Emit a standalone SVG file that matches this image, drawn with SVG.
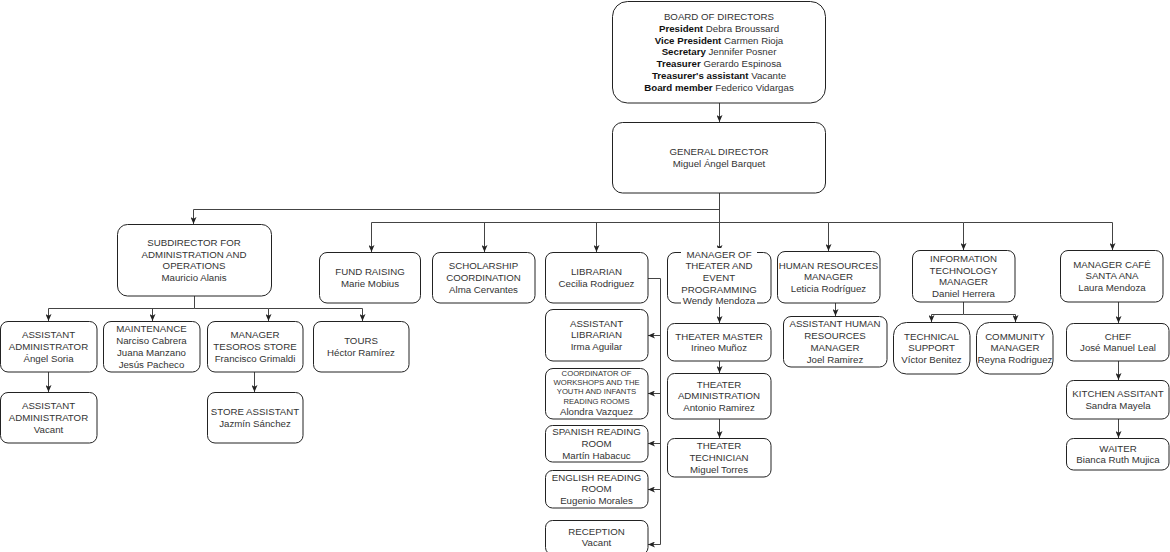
<svg xmlns="http://www.w3.org/2000/svg" width="1170" height="552" viewBox="0 0 1170 552">
<defs>
<marker id="arr" markerWidth="7" markerHeight="6" refX="7" refY="3" orient="auto" markerUnits="userSpaceOnUse">
<path d="M0,0 L7,3 L0,6 L1.8,3 z" fill="#222"/>
</marker>
<style>
.box{fill:#fff;stroke:#222;stroke-width:1}
.t{font-family:"Liberation Sans",Arial,sans-serif;font-size:9.7px;fill:#333;text-anchor:middle}
.s{font-size:7.7px}
.b{font-weight:bold;fill:#111}
.c{fill:none;stroke:#444;stroke-width:1}
.a{marker-end:url(#arr)}
</style>
</defs>
<rect width="1170" height="552" fill="#fff"/>
<g id="connectors">
<path class="c a" d="M719.5,103 V122"/>
<path class="c a" d="M719.5,193 V209.5 H193.5 V224"/>
<path class="c a" d="M719.5,193 V222.5 H371.5 V252"/>
<path class="c a" d="M484.5,222.5 V252"/>
<path class="c a" d="M596.5,222.5 V252"/>
<path class="c a" d="M719.5,193 V252"/>
<path class="c a" d="M719.5,222.5 H828.5 V251"/>
<path class="c a" d="M828.5,222.5 H963.5 V250"/>
<path class="c a" d="M963.5,222.5 H1112.5 V250"/>
<path class="c a" d="M194.5,296 V308.5 H48.5 V321"/>
<path class="c a" d="M152.5,308.5 V321"/>
<path class="c a" d="M194.5,308.5 H268.5 V321"/>
<path class="c a" d="M268.5,308.5 H362.5 V321"/>
<path class="c a" d="M48.5,372 V392"/>
<path class="c a" d="M254.5,372 V392"/>
<path class="c a" d="M648,278.5 H660.5 V544.5 H648"/>
<path class="c a" d="M660.5,335.5 H648"/>
<path class="c a" d="M660.5,393.5 H648"/>
<path class="c a" d="M660.5,443.5 H648"/>
<path class="c a" d="M660.5,489.5 H648"/>
<path class="c a" d="M719.5,303 V323"/>
<path class="c a" d="M719.5,361 V373"/>
<path class="c a" d="M719.5,419 V438"/>
<path class="c a" d="M835.5,303 V316"/>
<path class="c a" d="M963.5,302 V314.5 H931.5 V322"/>
<path class="c a" d="M963.5,314.5 H1015.5 V322"/>
<path class="c a" d="M1118.5,302 V323"/>
<path class="c a" d="M1118.5,361 V380"/>
<path class="c a" d="M1118.5,419 V438"/>
</g>
<g id="board"><rect class="box" x="612.5" y="1.5" width="213" height="101.5" rx="15"/>
<text class="t" x="719" y="20.3">BOARD OF DIRECTORS<tspan x="719" dy="11.7"><tspan class="b">President</tspan> Debra Broussard</tspan><tspan x="719" dy="11.7"><tspan class="b">Vice President</tspan> Carmen Rioja</tspan><tspan x="719" dy="11.7"><tspan class="b">Secretary</tspan> Jennifer Posner</tspan><tspan x="719" dy="11.7"><tspan class="b">Treasurer</tspan> Gerardo Espinosa</tspan><tspan x="719" dy="11.7"><tspan class="b">Treasurer's assistant</tspan> Vacante</tspan><tspan x="719" dy="11.7"><tspan class="b">Board member</tspan> Federico Vidargas</tspan></text></g>
<g id="general-director"><rect class="box" x="612.5" y="122.5" width="213" height="70.5" rx="10"/>
<text class="t" x="719" y="155.3">GENERAL DIRECTOR<tspan x="719" dy="12">Miguel Ángel Barquet</tspan></text></g>
<g id="subdirector"><rect class="box" x="117.5" y="224.5" width="154" height="71.5" rx="10"/>
<text class="t" x="194" y="245.9">SUBDIRECTOR FOR<tspan x="194" dy="11.7">ADMINISTRATION AND</tspan><tspan x="194" dy="11.7">OPERATIONS</tspan><tspan x="194" dy="11.7">Mauricio Alanis</tspan></text></g>
<g id="fund-raising"><rect class="box" x="319.5" y="252.5" width="101" height="50.5" rx="7.5"/>
<text class="t" x="370" y="275">FUND RAISING<tspan x="370" dy="11.7">Marie Mobius</tspan></text></g>
<g id="scholarship"><rect class="box" x="432.5" y="252.5" width="102.5" height="50.5" rx="7.5"/>
<text class="t" x="483.5" y="269.2">SCHOLARSHIP<tspan x="483.5" dy="11.7">COORDINATION</tspan><tspan x="483.5" dy="11.7">Alma Cervantes</tspan></text></g>
<g id="librarian"><rect class="box" x="545.5" y="252.5" width="102.5" height="50.5" rx="7.5"/>
<text class="t" x="596.5" y="275">LIBRARIAN<tspan x="596.5" dy="11.7">Cecilia Rodriguez</tspan></text></g>
<g id="theater-manager"><rect class="box" x="667.5" y="252.5" width="103.5" height="50.5" rx="7.5"/>
<rect x="681" y="248" width="76" height="59" fill="#fff"/>
<text class="t" x="719" y="257.5">MANAGER OF<tspan x="719" dy="11.7">THEATER AND</tspan><tspan x="719" dy="11.7">EVENT</tspan><tspan x="719" dy="11.7">PROGRAMMING</tspan><tspan x="719" dy="11.7">Wendy Mendoza</tspan></text></g>
<g id="hr-manager"><rect class="box" x="777.5" y="251.5" width="102.5" height="51.5" rx="7.5"/>
<text class="t" x="828.5" y="268.7">HUMAN RESOURCES<tspan x="828.5" dy="11.7">MANAGER</tspan><tspan x="828.5" dy="11.7">Leticia Rodríguez</tspan></text></g>
<g id="it-manager"><rect class="box" x="912.5" y="250.5" width="102.5" height="51.5" rx="7.5"/>
<text class="t" x="963.5" y="261.9">INFORMATION<tspan x="963.5" dy="11.7">TECHNOLOGY</tspan><tspan x="963.5" dy="11.7">MANAGER</tspan><tspan x="963.5" dy="11.7">Daniel Herrera</tspan></text></g>
<g id="cafe-manager"><rect class="box" x="1060.5" y="250.5" width="102.5" height="51.5" rx="7.5"/>
<text class="t" x="1112" y="267.7">MANAGER CAFÉ<tspan x="1112" dy="11.7">SANTA ANA</tspan><tspan x="1112" dy="11.7">Laura Mendoza</tspan></text></g>
<g id="assistant-admin"><rect class="box" x="0.5" y="321.5" width="96.5" height="50.5" rx="7.5"/>
<text class="t" x="48.5" y="338.2">ASSISTANT<tspan x="48.5" dy="11.7">ADMINISTRATOR</tspan><tspan x="48.5" dy="11.7">Ángel Soria</tspan></text></g>
<g id="maintenance"><rect class="box" x="103.5" y="321.5" width="96.5" height="50.5" rx="7.5"/>
<text class="t" x="151.5" y="332.4">MAINTENANCE<tspan x="151.5" dy="11.7">Narciso Cabrera</tspan><tspan x="151.5" dy="11.7">Juana Manzano</tspan><tspan x="151.5" dy="11.7">Jesús Pacheco</tspan></text></g>
<g id="tesoros-store"><rect class="box" x="207.5" y="321.5" width="95.5" height="50.5" rx="7.5"/>
<text class="t" x="255" y="338.2">MANAGER<tspan x="255" dy="11.7">TESOROS STORE</tspan><tspan x="255" dy="11.7">Francisco Grimaldi</tspan></text></g>
<g id="tours"><rect class="box" x="313.5" y="321.5" width="95.5" height="50.5" rx="7.5"/>
<text class="t" x="361" y="344">TOURS<tspan x="361" dy="11.7">Héctor Ramírez</tspan></text></g>
<g id="assistant-admin-vacant"><rect class="box" x="0.5" y="392.5" width="96.5" height="50.5" rx="7.5"/>
<text class="t" x="48.5" y="409.2">ASSISTANT<tspan x="48.5" dy="11.7">ADMINISTRATOR</tspan><tspan x="48.5" dy="11.7">Vacant</tspan></text></g>
<g id="store-assistant"><rect class="box" x="207.5" y="392.5" width="95.5" height="50.5" rx="7.5"/>
<text class="t" x="255" y="415">STORE ASSISTANT<tspan x="255" dy="11.7">Jazmín Sánchez</tspan></text></g>
<g id="assistant-librarian"><rect class="box" x="545.5" y="309.5" width="102.5" height="51.5" rx="7.5"/>
<text class="t" x="596.5" y="326.7">ASSISTANT<tspan x="596.5" dy="11.7">LIBRARIAN</tspan><tspan x="596.5" dy="11.7">Irma Aguilar</tspan></text></g>
<g id="coordinator"><rect class="box" x="545.5" y="368.5" width="102.5" height="50.5" rx="7.5"/>
<text class="t s" x="596.5" y="375.7">COORDINATOR OF<tspan x="596.5" dy="9.3">WORKSHOPS AND THE</tspan><tspan x="596.5" dy="9.3">YOUTH AND INFANTS</tspan><tspan x="596.5" dy="9.3">READING ROOMS</tspan></text>
<text class="t" x="596.5" y="415.4">Alondra Vazquez</text></g>
<g id="spanish-room"><rect class="box" x="545.5" y="425.5" width="102.5" height="36.5" rx="7"/>
<text class="t" x="596.5" y="435.2">SPANISH READING<tspan x="596.5" dy="11.7">ROOM</tspan><tspan x="596.5" dy="11.7">Martín Habacuc</tspan></text></g>
<g id="english-room"><rect class="box" x="545.5" y="470.5" width="102.5" height="37.5" rx="7"/>
<text class="t" x="596.5" y="480.7">ENGLISH READING<tspan x="596.5" dy="11.7">ROOM</tspan><tspan x="596.5" dy="11.7">Eugenio Morales</tspan></text></g>
<g id="reception"><rect class="box" x="545.5" y="520.5" width="102.5" height="34" rx="7"/>
<text class="t" x="596.5" y="534.5">RECEPTION<tspan x="596.5" dy="11.7">Vacant</tspan></text></g>
<g id="theater-master"><rect class="box" x="667.5" y="323.5" width="103.5" height="37.5" rx="7"/>
<text class="t" x="719" y="339.5">THEATER MASTER<tspan x="719" dy="11.7">Irineo Muñoz</tspan></text></g>
<g id="theater-admin"><rect class="box" x="667.5" y="373.5" width="103.5" height="45.5" rx="7"/>
<text class="t" x="719" y="387.7">THEATER<tspan x="719" dy="11.7">ADMINISTRATION</tspan><tspan x="719" dy="11.7">Antonio Ramirez</tspan></text></g>
<g id="theater-technician"><rect class="box" x="667.5" y="438.5" width="103.5" height="38.5" rx="7"/>
<text class="t" x="719" y="449.2">THEATER<tspan x="719" dy="11.7">TECHNICIAN</tspan><tspan x="719" dy="11.7">Miguel Torres</tspan></text></g>
<g id="assistant-hr"><rect class="box" x="783.5" y="316.5" width="103.5" height="50.5" rx="7.5"/>
<text class="t" x="835" y="327.4">ASSISTANT HUMAN<tspan x="835" dy="11.7">RESOURCES</tspan><tspan x="835" dy="11.7">MANAGER</tspan><tspan x="835" dy="11.7">Joel Ramirez</tspan></text></g>
<g id="technical-support"><rect class="box" x="893.5" y="322.5" width="76.5" height="51.5" rx="13"/>
<text class="t" x="931.5" y="339.7">TECHNICAL<tspan x="931.5" dy="11.7">SUPPORT</tspan><tspan x="931.5" dy="11.7">Víctor Benitez</tspan></text></g>
<g id="community-manager"><rect class="box" x="976.5" y="322.5" width="76.5" height="51.5" rx="13"/>
<text class="t" x="1015" y="339.7">COMMUNITY<tspan x="1015" dy="11.7">MANAGER</tspan><tspan x="1015" dy="11.7">Reyna Rodriguez</tspan></text></g>
<g id="chef"><rect class="box" x="1066.5" y="323.5" width="102.5" height="37.5" rx="7"/>
<text class="t" x="1118" y="339.5">CHEF<tspan x="1118" dy="11.7">José Manuel Leal</tspan></text></g>
<g id="kitchen-assistant"><rect class="box" x="1066.5" y="380.5" width="102.5" height="38.5" rx="7"/>
<text class="t" x="1118" y="397">KITCHEN ASSITANT<tspan x="1118" dy="11.7">Sandra Mayela</tspan></text></g>
<g id="waiter"><rect class="box" x="1066.5" y="438.5" width="102.5" height="31.5" rx="7"/>
<text class="t" x="1118" y="451.5">WAITER<tspan x="1118" dy="11.7">Bianca Ruth Mujica</tspan></text></g>
</svg>
